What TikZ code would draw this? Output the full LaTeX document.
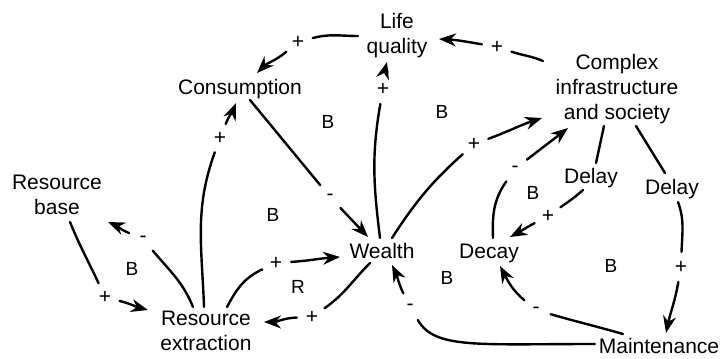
\documentclass[tikz,border=0pt]{standalone}
\usepackage{fontspec}
\setmainfont{Liberation Sans}
\usetikzlibrary{arrows.meta}
\begin{document}
\begin{tikzpicture}[x=1pt,y=1pt,
  concept/.style={align=center, inner sep=0pt, font=\fontsize{21}{25}\selectfont},
  sign/.style={circle, inner sep=0pt, minimum size=30pt, font=\fontsize{21}{21}\selectfont},
  looplabel/.style={font=\fontsize{19}{19}\selectfont},
  link/.style={line width=2.4pt, line cap=round},
  arr/.style={link, -{Stealth[length=17pt,width=13pt]}},
]
\useasboundingbox (0,0) rectangle (721,-359);
\fill[white] (0,0) rectangle (721,-359);
\clip (0,0) rectangle (721,-359);

% concepts
\node[concept] (life)    at (397,-35.5) {Life\\quality};
\node[concept] (cons)    at (240,-89.5) {Consumption};
\node[concept] (complex) at (617,-89)   {Complex\\infrastructure\\and society};
\node[concept] (resbase) at (57,-194.5) {Resource\\base};
\node[concept] (resext)  at (206,-331)  {Resource\\extraction};
\node[concept] (wealth)  at (382,-250.5) {Wealth};
\node[concept] (decay)   at (489,-253)  {Decay};
\node[concept] (delayA)  at (591,-178)  {Delay};
\node[concept] (delayB)  at (672,-189)  {Delay};
\node[concept] (maint)   at (659,-346)  {Maintenance};

% link polarities
\node[sign] (p1)  at (497,-47)  {+};
\node[sign] (p2)  at (298,-42)  {+};
\node[sign] (m3)  at (330,-197) {-};
\node[sign] (p4)  at (383,-89)  {+};
\node[sign] (p5)  at (474,-144) {+};
\node[sign] (m6)  at (515,-169) {-};
\node[sign] (p7)  at (548,-216) {+};
\node[sign] (p8)  at (681,-267) {+};
\node[sign] (m9)  at (536,-310) {-};
\node[sign] (m10) at (410,-307) {-};
\node[sign] (p11) at (312,-317) {+};
\node[sign] (p12) at (276,-263) {+};
\node[sign] (p13) at (220,-138) {+};
\node[sign] (m14) at (143,-239) {-};
\node[sign] (p15) at (105,-297) {+};

% loop types
\node[looplabel] (b1) at (328,-122) {B};
\node[looplabel] (b2) at (442,-112) {B};
\node[looplabel] (b3) at (273,-215) {B};
\node[looplabel] (b4) at (132,-269) {B};
\node[looplabel] (r1) at (298,-287) {R};
\node[looplabel] (b5) at (447,-278) {B};
\node[looplabel] (b6) at (533,-193) {B};
\node[looplabel] (b7) at (611,-266) {B};

% complex -> life quality
\draw[link] ([shift={(-74,28)}]complex.center) to[out=157,in=-18] (p1);
\draw[arr] (p1) to[out=170,in=-3] ([shift={(42,-3.5)}]life.center);
% life quality -> consumption
\draw[link] ([shift={(-39,-0.5)}]life.center) to[out=180,in=15] (p2);
\draw[arr] (p2) to[out=220,in=45] ([shift={(17,16.5)}]cons.center);
% consumption -> wealth
\draw[link] ([shift={(10,-10.5)}]cons.center) -- (m3);
\draw[arr] (m3) -- ([shift={(-14,13.5)}]wealth.center);
% wealth -> life quality
\draw[link] ([shift={(-2,12.5)}]wealth.center) to[out=97,in=-100] (p4);
\draw[arr] (p4) to[out=75,in=-105] ([shift={(-10,-26.5)}]life.center);
% wealth -> complex
\draw[link] ([shift={(10,12.5)}]wealth.center) to[out=57,in=-138] (p5);
\draw[arr] (p5) to[out=20,in=-162] ([shift={(-75,-29)}]complex.center);
% decay -> complex
\draw[link] ([shift={(4,15)}]decay.center) to[out=92,in=-125] (m6);
\draw[arr] (m6) to[out=38,in=-142] ([shift={(-49,-39)}]complex.center);
% complex -> (delay) -> decay
\draw[link] ([shift={(-13,-37)}]complex.center) -- ([shift={(5,15)}]delayA.center);
\draw[link] ([shift={(-8,-12)}]delayA.center) to[out=222,in=35] (p7);
\draw[arr] (p7) to[out=208,in=28] ([shift={(21,16)}]decay.center);
% complex -> (delay) -> maintenance
\draw[link] ([shift={(19,-37)}]complex.center) -- ([shift={(-7,16)}]delayB.center);
\draw[link] ([shift={(6,-13)}]delayB.center) to[out=-70,in=88] (p8);
\draw[arr] (p8) to[out=-100,in=78] ([shift={(7,13)}]maint.center);
% maintenance -> decay
\draw[link] ([shift={(-36,12)}]maint.center) to[out=164,in=-16] (m9);
\draw[arr] (m9) to[out=140,in=-62] ([shift={(11,-13)}]decay.center);
% maintenance -> wealth
\draw[link] ([shift={(-64,2)}]maint.center) .. controls +(-120,0) and +(25,-42) .. (m10);
\draw[arr] (m10) to[out=116,in=-64] ([shift={(10,-14.5)}]wealth.center);
% wealth -> resource extraction
\draw[link] ([shift={(-12,-12.5)}]wealth.center) to[out=225,in=35] (p11);
\draw[arr] (p11) to[out=182,in=0] ([shift={(58,9)}]resext.center);
% resource extraction -> wealth
\draw[link] ([shift={(21,24)}]resext.center) to[out=62,in=205] (p12);
\draw[arr] (p12) to[out=4,in=184] ([shift={(-42,-6.5)}]wealth.center);
% resource extraction -> consumption
\draw[link] ([shift={(-2,24)}]resext.center) to[out=92,in=-110] (p13);
\draw[arr] (p13) to[out=68,in=-112] ([shift={(-4,-13.5)}]cons.center);
% resource extraction -> resource base
\draw[link] ([shift={(-13,24)}]resext.center) to[out=112,in=-50] (m14);
\draw[arr] (m14) to[out=157,in=-23] ([shift={(51,-27.5)}]resbase.center);
% resource base -> resource extraction
\draw[link] ([shift={(13,-27.5)}]resbase.center) to[out=-68,in=115] (p15);
\draw[arr] (p15) to[out=-15,in=165] ([shift={(-58,21)}]resext.center);
\end{tikzpicture}
\end{document}
